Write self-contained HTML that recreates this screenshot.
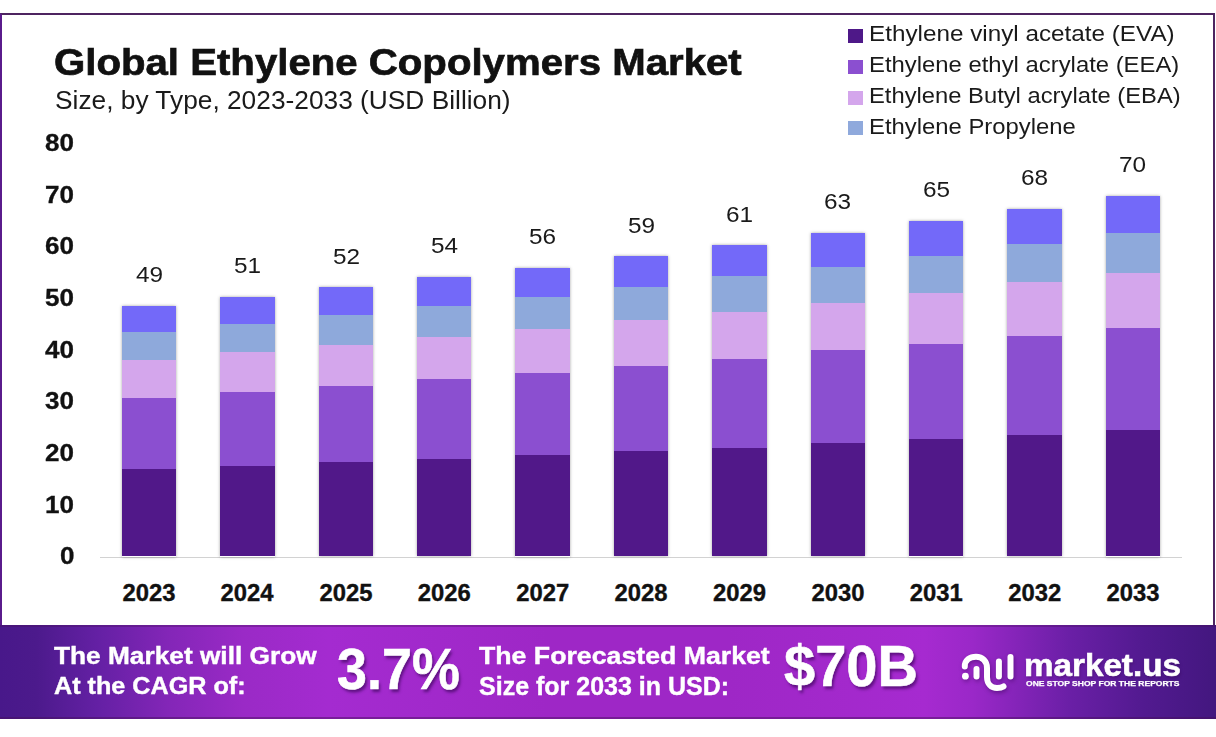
<!DOCTYPE html>
<html><head><meta charset="utf-8">
<style>
html,body{margin:0;padding:0;}
body{width:1216px;height:737px;position:relative;overflow:hidden;background:#fff;font-family:"Liberation Sans",sans-serif;}
.t{position:absolute;white-space:nowrap;line-height:1;transform-origin:0 0;}
.sq{position:absolute;}
.bar{position:absolute;box-shadow:0 0 3px rgba(0,0,0,0.35);}
#frame{position:absolute;left:0;top:13px;width:1215px;height:612px;box-sizing:border-box;border-top:2px solid #4d2460;border-left:2px solid #5a1b8c;border-right:2px solid #4d2460;}
#banner{position:absolute;left:0;top:624.7px;width:1216px;height:94px;background:linear-gradient(90deg,#48188a 0%,#4c1a8c 3%,#6420a4 8%,#8426b8 14%,#9a2ac6 20%,#a42bd0 27%,#9e27c6 45%,#9e27c6 60%,#a62ad0 76%,#9a28c8 80%,#6a1fa6 88%,#521a90 94%,#43177f 100%);border-bottom:2px solid rgba(70,15,90,0.45);border-top:2px solid rgba(70,15,90,0.35);box-sizing:border-box;}
</style></head><body>
<div id="frame"></div>
<div class="t" id="title" style="left:54.44px;top:43.61px;font-size:37.79px;font-weight:700;color:#111;transform:scaleX(1.0635);-webkit-text-stroke:0.7px #111;">Global Ethylene Copolymers Market</div>
<div class="t" id="sub" style="left:55.35px;top:87.84px;font-size:25.00px;font-weight:400;color:#1a1a1a;transform:scaleX(1.0519);">Size, by Type, 2023-2033 (USD Billion)</div>
<div class="sq" style="left:848px;top:29.0px;width:14.6px;height:14px;background:#4e1888"></div>
<div class="t" id="leg0" style="left:868.57px;top:23.99px;font-size:21.51px;font-weight:400;color:#1a1a1a;transform:scaleX(1.1284);">Ethylene vinyl acetate (EVA)</div>
<div class="sq" style="left:848px;top:59.8px;width:14.6px;height:14px;background:#8b4fd0"></div>
<div class="t" id="leg1" style="left:868.59px;top:54.99px;font-size:21.51px;font-weight:400;color:#1a1a1a;transform:scaleX(1.1097);">Ethylene ethyl acrylate (EEA)</div>
<div class="sq" style="left:848px;top:90.6px;width:14.6px;height:14px;background:#d4a6ec"></div>
<div class="t" id="leg2" style="left:868.59px;top:85.99px;font-size:21.51px;font-weight:400;color:#1a1a1a;transform:scaleX(1.1052);">Ethylene Butyl acrylate (EBA)</div>
<div class="sq" style="left:848px;top:121.4px;width:14.6px;height:14px;background:#8fa9dc"></div>
<div class="t" id="leg3" style="left:868.59px;top:116.99px;font-size:21.51px;font-weight:400;color:#1a1a1a;transform:scaleX(1.1095);">Ethylene Propylene</div>
<div class="t" id="y80" style="left:45.07px;top:130.98px;font-size:24.13px;font-weight:700;color:#111;transform:scaleX(1.0800);-webkit-text-stroke:0.3px #111;">80</div>
<div class="t" id="y70" style="left:45.07px;top:182.63px;font-size:24.13px;font-weight:700;color:#111;transform:scaleX(1.0800);-webkit-text-stroke:0.3px #111;">70</div>
<div class="t" id="y60" style="left:45.07px;top:234.28px;font-size:24.13px;font-weight:700;color:#111;transform:scaleX(1.0800);-webkit-text-stroke:0.3px #111;">60</div>
<div class="t" id="y50" style="left:45.07px;top:285.93px;font-size:24.13px;font-weight:700;color:#111;transform:scaleX(1.0800);-webkit-text-stroke:0.3px #111;">50</div>
<div class="t" id="y40" style="left:45.07px;top:337.58px;font-size:24.13px;font-weight:700;color:#111;transform:scaleX(1.0800);-webkit-text-stroke:0.3px #111;">40</div>
<div class="t" id="y30" style="left:45.07px;top:389.23px;font-size:24.13px;font-weight:700;color:#111;transform:scaleX(1.0800);-webkit-text-stroke:0.3px #111;">30</div>
<div class="t" id="y20" style="left:45.07px;top:440.88px;font-size:24.13px;font-weight:700;color:#111;transform:scaleX(1.0800);-webkit-text-stroke:0.3px #111;">20</div>
<div class="t" id="y10" style="left:45.07px;top:492.53px;font-size:24.13px;font-weight:700;color:#111;transform:scaleX(1.0800);-webkit-text-stroke:0.3px #111;">10</div>
<div class="t" id="y0" style="left:59.56px;top:544.18px;font-size:24.13px;font-weight:700;color:#111;transform:scaleX(1.0800);-webkit-text-stroke:0.3px #111;">0</div>
<div style="position:absolute;left:100px;top:557px;width:1082px;height:1px;background:#d2d2d2"></div>
<div class="bar" style="left:121.70px;top:306.00px;width:54.60px;height:250.50px">
<div style="position:absolute;left:0;right:0;top:0.00px;height:25.80px;background:#7369f9"></div>
<div style="position:absolute;left:0;right:0;top:25.80px;height:27.80px;background:#8ea9db"></div>
<div style="position:absolute;left:0;right:0;top:53.60px;height:38.00px;background:#d4a6ec"></div>
<div style="position:absolute;left:0;right:0;top:91.60px;height:71.00px;background:#8b4fd0"></div>
<div style="position:absolute;left:0;right:0;top:162.60px;height:87.90px;background:#511889"></div>
</div>
<div class="t" id="v2023" style="left:135.87px;top:263.36px;font-size:22.97px;font-weight:400;color:#1a1a1a;transform:scaleX(1.0600);">49</div>
<div class="t" id="x2023" style="left:122.62px;top:580.62px;font-size:23.84px;font-weight:700;color:#111;transform:scaleX(1.0000);-webkit-text-stroke:0.35px #111;">2023</div>
<div class="bar" style="left:220.10px;top:297.00px;width:54.60px;height:259.50px">
<div style="position:absolute;left:0;right:0;top:0.00px;height:27.10px;background:#7369f9"></div>
<div style="position:absolute;left:0;right:0;top:27.10px;height:28.30px;background:#8ea9db"></div>
<div style="position:absolute;left:0;right:0;top:55.40px;height:39.60px;background:#d4a6ec"></div>
<div style="position:absolute;left:0;right:0;top:95.00px;height:73.70px;background:#8b4fd0"></div>
<div style="position:absolute;left:0;right:0;top:168.70px;height:90.80px;background:#511889"></div>
</div>
<div class="t" id="v2024" style="left:234.27px;top:254.36px;font-size:22.97px;font-weight:400;color:#1a1a1a;transform:scaleX(1.0600);">51</div>
<div class="t" id="x2024" style="left:220.52px;top:580.62px;font-size:23.84px;font-weight:700;color:#111;transform:scaleX(1.0000);-webkit-text-stroke:0.35px #111;">2024</div>
<div class="bar" style="left:318.50px;top:287.20px;width:54.60px;height:269.30px">
<div style="position:absolute;left:0;right:0;top:0.00px;height:27.80px;background:#7369f9"></div>
<div style="position:absolute;left:0;right:0;top:27.80px;height:30.20px;background:#8ea9db"></div>
<div style="position:absolute;left:0;right:0;top:58.00px;height:40.80px;background:#d4a6ec"></div>
<div style="position:absolute;left:0;right:0;top:98.80px;height:75.90px;background:#8b4fd0"></div>
<div style="position:absolute;left:0;right:0;top:174.70px;height:94.60px;background:#511889"></div>
</div>
<div class="t" id="v2025" style="left:332.67px;top:244.56px;font-size:22.97px;font-weight:400;color:#1a1a1a;transform:scaleX(1.0600);">52</div>
<div class="t" id="x2025" style="left:319.42px;top:580.62px;font-size:23.84px;font-weight:700;color:#111;transform:scaleX(1.0000);-webkit-text-stroke:0.35px #111;">2025</div>
<div class="bar" style="left:416.90px;top:276.80px;width:54.60px;height:279.70px">
<div style="position:absolute;left:0;right:0;top:0.00px;height:28.90px;background:#7369f9"></div>
<div style="position:absolute;left:0;right:0;top:28.90px;height:30.90px;background:#8ea9db"></div>
<div style="position:absolute;left:0;right:0;top:59.80px;height:42.10px;background:#d4a6ec"></div>
<div style="position:absolute;left:0;right:0;top:101.90px;height:80.20px;background:#8b4fd0"></div>
<div style="position:absolute;left:0;right:0;top:182.10px;height:97.60px;background:#511889"></div>
</div>
<div class="t" id="v2026" style="left:430.54px;top:234.16px;font-size:22.97px;font-weight:400;color:#1a1a1a;transform:scaleX(1.0600);">54</div>
<div class="t" id="x2026" style="left:417.82px;top:580.62px;font-size:23.84px;font-weight:700;color:#111;transform:scaleX(1.0000);-webkit-text-stroke:0.35px #111;">2026</div>
<div class="bar" style="left:515.30px;top:267.50px;width:54.60px;height:289.00px">
<div style="position:absolute;left:0;right:0;top:0.00px;height:29.90px;background:#7369f9"></div>
<div style="position:absolute;left:0;right:0;top:29.90px;height:31.50px;background:#8ea9db"></div>
<div style="position:absolute;left:0;right:0;top:61.40px;height:44.00px;background:#d4a6ec"></div>
<div style="position:absolute;left:0;right:0;top:105.40px;height:81.80px;background:#8b4fd0"></div>
<div style="position:absolute;left:0;right:0;top:187.20px;height:101.80px;background:#511889"></div>
</div>
<div class="t" id="v2027" style="left:529.47px;top:224.86px;font-size:22.97px;font-weight:400;color:#1a1a1a;transform:scaleX(1.0600);">56</div>
<div class="t" id="x2027" style="left:516.22px;top:580.62px;font-size:23.84px;font-weight:700;color:#111;transform:scaleX(1.0000);-webkit-text-stroke:0.35px #111;">2027</div>
<div class="bar" style="left:613.70px;top:256.20px;width:54.60px;height:300.30px">
<div style="position:absolute;left:0;right:0;top:0.00px;height:30.90px;background:#7369f9"></div>
<div style="position:absolute;left:0;right:0;top:30.90px;height:33.30px;background:#8ea9db"></div>
<div style="position:absolute;left:0;right:0;top:64.20px;height:45.40px;background:#d4a6ec"></div>
<div style="position:absolute;left:0;right:0;top:109.60px;height:85.10px;background:#8b4fd0"></div>
<div style="position:absolute;left:0;right:0;top:194.70px;height:105.60px;background:#511889"></div>
</div>
<div class="t" id="v2028" style="left:627.87px;top:213.56px;font-size:22.97px;font-weight:400;color:#1a1a1a;transform:scaleX(1.0600);">59</div>
<div class="t" id="x2028" style="left:614.62px;top:580.62px;font-size:23.84px;font-weight:700;color:#111;transform:scaleX(1.0000);-webkit-text-stroke:0.35px #111;">2028</div>
<div class="bar" style="left:712.10px;top:245.30px;width:54.60px;height:311.20px">
<div style="position:absolute;left:0;right:0;top:0.00px;height:30.90px;background:#7369f9"></div>
<div style="position:absolute;left:0;right:0;top:30.90px;height:35.60px;background:#8ea9db"></div>
<div style="position:absolute;left:0;right:0;top:66.50px;height:46.80px;background:#d4a6ec"></div>
<div style="position:absolute;left:0;right:0;top:113.30px;height:89.20px;background:#8b4fd0"></div>
<div style="position:absolute;left:0;right:0;top:202.50px;height:108.70px;background:#511889"></div>
</div>
<div class="t" id="v2029" style="left:725.74px;top:202.66px;font-size:22.97px;font-weight:400;color:#1a1a1a;transform:scaleX(1.0600);">61</div>
<div class="t" id="x2029" style="left:713.02px;top:580.62px;font-size:23.84px;font-weight:700;color:#111;transform:scaleX(1.0000);-webkit-text-stroke:0.35px #111;">2029</div>
<div class="bar" style="left:810.50px;top:233.10px;width:54.60px;height:323.40px">
<div style="position:absolute;left:0;right:0;top:0.00px;height:34.10px;background:#7369f9"></div>
<div style="position:absolute;left:0;right:0;top:34.10px;height:35.50px;background:#8ea9db"></div>
<div style="position:absolute;left:0;right:0;top:69.60px;height:47.80px;background:#d4a6ec"></div>
<div style="position:absolute;left:0;right:0;top:117.40px;height:92.10px;background:#8b4fd0"></div>
<div style="position:absolute;left:0;right:0;top:209.50px;height:113.90px;background:#511889"></div>
</div>
<div class="t" id="v2030" style="left:824.14px;top:190.46px;font-size:22.97px;font-weight:400;color:#1a1a1a;transform:scaleX(1.0600);">63</div>
<div class="t" id="x2030" style="left:811.42px;top:580.62px;font-size:23.84px;font-weight:700;color:#111;transform:scaleX(1.0000);-webkit-text-stroke:0.35px #111;">2030</div>
<div class="bar" style="left:908.90px;top:221.00px;width:54.60px;height:335.50px">
<div style="position:absolute;left:0;right:0;top:0.00px;height:34.80px;background:#7369f9"></div>
<div style="position:absolute;left:0;right:0;top:34.80px;height:37.10px;background:#8ea9db"></div>
<div style="position:absolute;left:0;right:0;top:71.90px;height:51.00px;background:#d4a6ec"></div>
<div style="position:absolute;left:0;right:0;top:122.90px;height:94.90px;background:#8b4fd0"></div>
<div style="position:absolute;left:0;right:0;top:217.80px;height:117.70px;background:#511889"></div>
</div>
<div class="t" id="v2031" style="left:922.54px;top:178.36px;font-size:22.97px;font-weight:400;color:#1a1a1a;transform:scaleX(1.0600);">65</div>
<div class="t" id="x2031" style="left:909.82px;top:580.62px;font-size:23.84px;font-weight:700;color:#111;transform:scaleX(1.0000);-webkit-text-stroke:0.35px #111;">2031</div>
<div class="bar" style="left:1007.30px;top:208.90px;width:54.60px;height:347.60px">
<div style="position:absolute;left:0;right:0;top:0.00px;height:35.30px;background:#7369f9"></div>
<div style="position:absolute;left:0;right:0;top:35.30px;height:38.20px;background:#8ea9db"></div>
<div style="position:absolute;left:0;right:0;top:73.50px;height:53.40px;background:#d4a6ec"></div>
<div style="position:absolute;left:0;right:0;top:126.90px;height:99.70px;background:#8b4fd0"></div>
<div style="position:absolute;left:0;right:0;top:226.60px;height:121.00px;background:#511889"></div>
</div>
<div class="t" id="v2032" style="left:1020.94px;top:166.26px;font-size:22.97px;font-weight:400;color:#1a1a1a;transform:scaleX(1.0600);">68</div>
<div class="t" id="x2032" style="left:1008.22px;top:580.62px;font-size:23.84px;font-weight:700;color:#111;transform:scaleX(1.0000);-webkit-text-stroke:0.35px #111;">2032</div>
<div class="bar" style="left:1105.70px;top:196.00px;width:54.60px;height:360.50px">
<div style="position:absolute;left:0;right:0;top:0.00px;height:37.40px;background:#7369f9"></div>
<div style="position:absolute;left:0;right:0;top:37.40px;height:39.20px;background:#8ea9db"></div>
<div style="position:absolute;left:0;right:0;top:76.60px;height:55.40px;background:#d4a6ec"></div>
<div style="position:absolute;left:0;right:0;top:132.00px;height:101.80px;background:#8b4fd0"></div>
<div style="position:absolute;left:0;right:0;top:233.80px;height:126.70px;background:#511889"></div>
</div>
<div class="t" id="v2033" style="left:1119.34px;top:153.36px;font-size:22.97px;font-weight:400;color:#1a1a1a;transform:scaleX(1.0600);">70</div>
<div class="t" id="x2033" style="left:1106.62px;top:580.62px;font-size:23.84px;font-weight:700;color:#111;transform:scaleX(1.0000);-webkit-text-stroke:0.35px #111;">2033</div>
<div id="banner"></div>
<div class="t" id="b1" style="left:53.90px;top:644.08px;font-size:24.71px;font-weight:700;color:#fff;transform:scaleX(1.0631);-webkit-text-stroke:0.4px #fff;">The Market will Grow</div>
<div class="t" id="b2" style="left:53.90px;top:674.38px;font-size:24.13px;font-weight:700;color:#fff;transform:scaleX(1.0438);-webkit-text-stroke:0.4px #fff;">At the CAGR of:</div>
<div class="t" id="b3" style="left:336.55px;top:642.02px;font-size:56.69px;font-weight:700;color:#fff;transform:scaleX(0.9503);text-shadow:2px 3px 3px rgba(50,0,80,0.6);-webkit-text-stroke:0.6px #fff;">3.7%</div>
<div class="t" id="b4" style="left:478.90px;top:644.33px;font-size:24.42px;font-weight:700;color:#fff;transform:scaleX(1.0936);-webkit-text-stroke:0.4px #fff;">The Forecasted Market</div>
<div class="t" id="b5" style="left:478.90px;top:673.59px;font-size:25.29px;font-weight:700;color:#fff;transform:scaleX(0.9893);-webkit-text-stroke:0.4px #fff;">Size for 2033 in USD:</div>
<div class="t" id="b6" style="left:784.20px;top:637.85px;font-size:57.70px;font-weight:700;color:#fff;transform:scaleX(0.9717);text-shadow:2px 3px 3px rgba(50,0,80,0.6);-webkit-text-stroke:0.6px #fff;">$70B</div>
<div class="t" id="lg" style="left:1023.92px;top:649.41px;font-size:32.00px;font-weight:700;color:#fff;transform:scaleX(1.0378);-webkit-text-stroke:0.6px #fff;text-shadow:1px 2px 3px rgba(50,0,80,0.4);">market.us</div>
<div class="t" id="tag" style="left:1026.00px;top:680.05px;font-size:7.27px;font-weight:700;color:#fff;transform:scaleX(1.1736);-webkit-text-stroke:0.25px #fff;">ONE STOP SHOP FOR THE REPORTS</div>
<svg style="position:absolute;left:955px;top:645px;filter:drop-shadow(1px 2px 2px rgba(50,0,80,0.45))" width="70" height="52" viewBox="955 645 70 52">
<g fill="none" stroke="#fff" stroke-width="6" stroke-linecap="round">
<path d="M964.8 666.5 C964.8 660 970 656.8 976 656.8 C982.5 656.8 987 661.5 987 668 L987 677 C987 684 991.5 688 997 688 C999.5 688 1002 687.5 1003.5 686.5"/>
<path d="M976.5 669 L 976.5 676.6"/>
<path d="M998.9 661.5 L 998.9 676.6"/>
<path d="M1010.5 657 L 1010.5 676.6"/>
</g>
<circle cx="965.4" cy="676.2" r="3.4" fill="#fff"/>
</svg>
</body></html>
